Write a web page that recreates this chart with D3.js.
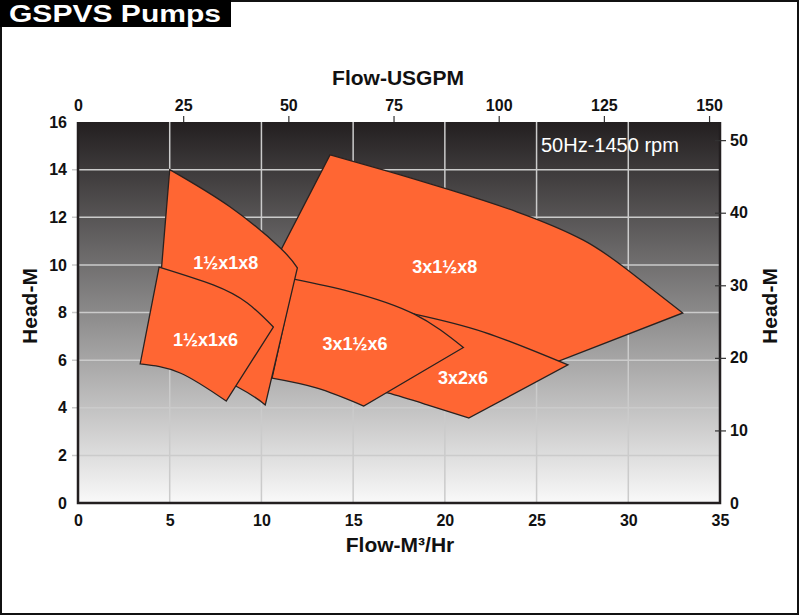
<!DOCTYPE html>
<html>
<head>
<meta charset="utf-8">
<script src="https://cdn.jsdelivr.net/npm/d3@7"></script>
<style>
  html, body { margin: 0; padding: 0; background: #fff; }
  svg { display: block; }
  text { font-family: "Liberation Sans", Arial, sans-serif; }
</style>
</head>
<body>
<svg id="chart" width="800" height="616"></svg>
<script>
// ---------- data ----------
const flowTicks = [0, 5, 10, 15, 20, 25, 30, 35];           // m3/h (bottom)
const headTicks = [0, 2, 4, 6, 8, 10, 12, 14, 16];           // m (left)
const gpmTicks = [0, 25, 50, 75, 100, 125, 150];             // USGPM (top)
const feetTicks = [0, 10, 20, 30, 40, 50];                   // ft (right)
const flowMax = 35, headMax = 16, gpmMax = 152.6, feetMax = 52.5;

const pumpNames = ["3x1½x8", "3x2x6", "3x1½x6", "1½x1x8", "1½x1x6"];
// each pump region: max-impeller curve (top) and min-impeller curve (bottom), [flow m3/h, head m]
const top3x15x8 = [[13.74, 14.62], [17.01, 13.91], [20.28, 13.15], [23.92, 12.23], [27.55, 11.04], [30.09, 9.71], [32.97, 7.98]];
const bottom3x15x8 = [[9.94, 8.95], [17.59, 7.48], [25.23, 5.67]];
const top3x2x6 = [[14.86, 8.53], [18.31, 7.94], [22.12, 7.18], [26.71, 5.80]];
const bottom3x2x6 = [[14.86, 4.96], [16.88, 4.62], [19.04, 4.12], [21.30, 3.57]];
const top3x15x6 = [[11.76, 9.40], [14.86, 8.87], [18.31, 7.94], [21.01, 6.53]];
const bottom3x15x6 = [[10.58, 5.24], [13.04, 4.82], [15.58, 4.07]];
const top1x8 = [[5.00, 14.00], [8.30, 12.43], [11.03, 10.71], [11.96, 9.87]];
const bottom1x8 = [[4.20, 6.60], [8.70, 4.87], [10.21, 4.12]];
const top1x6 = [[4.42, 9.91], [7.37, 9.16], [9.23, 8.40], [10.65, 7.39]];
const bottom1x6 = [[3.39, 5.84], [5.57, 5.46], [8.08, 4.28]];
const pumpTops = [top3x15x8, top3x2x6, top3x15x6, top1x8, top1x6];
const pumpBottoms = [bottom3x15x8, bottom3x2x6, bottom3x15x6, bottom1x8, bottom1x6];
const labelFlow = [20.0, 20.99, 15.1, 8.06, 6.95];
const labelHead = [9.91, 5.25, 6.70, 10.10, 6.85];

// ---------- layout ----------
const svg = d3.select("#chart");
const L = 78, R = 720, T = 122, B = 503;
const x = d3.scaleLinear().domain([0, flowMax]).range([L, R]);
const y = d3.scaleLinear().domain([0, headMax]).range([B, T]);
const xTop = d3.scaleLinear().domain([0, gpmMax]).range([L, R]);
const yRight = d3.scaleLinear().domain([0, feetMax]).range([B, T]);

// outer frame
svg.append("rect").attr("x", 1).attr("y", 1).attr("width", 797).attr("height", 613)
  .attr("fill", "#fff").attr("stroke", "#111").attr("stroke-width", 2);

// title box
svg.append("rect").attr("x", 0).attr("y", 0).attr("width", 231).attr("height", 27).attr("fill", "#000");
svg.append("text").attr("x", 9).attr("y", 22)
  .attr("font-family", "'DejaVu Sans', sans-serif").attr("font-weight", "bold")
  .attr("font-size", 23).attr("fill", "#fff")
  .attr("textLength", 212).attr("lengthAdjust", "spacingAndGlyphs")
  .text("GSPVS Pumps");

// background gradient
const defs = svg.append("defs");
const grad = defs.append("linearGradient").attr("id", "bg").attr("x1", 0).attr("y1", 0).attr("x2", 0).attr("y2", 1);
grad.append("stop").attr("offset", "0%").attr("stop-color", "#231f20");
grad.append("stop").attr("offset", "50%").attr("stop-color", "#8b8a8a");
grad.append("stop").attr("offset", "100%").attr("stop-color", "#f9f9f9");
svg.append("rect").attr("x", L).attr("y", T).attr("width", R - L).attr("height", B - T).attr("fill", "url(#bg)");

// grid
const grid = svg.append("g");
grid.selectAll(".vg").data(flowTicks.filter(d => d > 0 && d < flowMax)).join("line")
  .attr("x1", d => x(d)).attr("x2", d => x(d)).attr("y1", T).attr("y2", B)
  .attr("stroke", "#cbcbcb").attr("stroke-width", 1.5);
grid.selectAll(".hg").data(headTicks.filter(d => d > 0 && d < headMax)).join("line")
  .attr("x1", L - 6).attr("x2", R).attr("y1", d => y(d)).attr("y2", d => y(d))
  .attr("stroke", "#cbcbcb").attr("stroke-width", 1.5);

// pump regions
const line = d3.line().x(d => x(d[0])).y(d => y(d[1])).curve(d3.curveNatural);
function regionPath(top, bottom) {
  const a = line(top);
  const b = line(bottom.slice().reverse());
  return a + "L" + b.slice(1) + "Z";
}
const regions = svg.append("g");
pumpNames.forEach((name, i) => {
  regions.append("path").attr("d", regionPath(pumpTops[i], pumpBottoms[i]))
    .attr("fill", "#ff6633").attr("stroke", "#2a2220").attr("stroke-width", 1.3)
    .attr("stroke-linejoin", "miter");
});
pumpNames.forEach((name, i) => {
  svg.append("text").attr("x", x(labelFlow[i])).attr("y", y(labelHead[i])).attr("dy", "0.36em")
    .attr("text-anchor", "middle").attr("font-weight", "bold").attr("font-size", 18)
    .attr("fill", "#fff").text(name);
});

// plot border
svg.append("path").attr("d", `M${L},${T}V${B}H${R}V${T}`)
  .attr("fill", "none").attr("stroke", "#231f20").attr("stroke-width", 2.5);

// axes
const axB = svg.append("g").attr("transform", `translate(0,${B})`)
  .call(d3.axisBottom(x).tickValues(flowTicks).tickSize(0).tickPadding(12));
const axL = svg.append("g").attr("transform", `translate(${L},0)`)
  .call(d3.axisLeft(y).tickValues(headTicks).tickSize(0).tickPadding(11));
const axT = svg.append("g").attr("transform", `translate(0,${T})`)
  .call(d3.axisTop(xTop).tickValues(gpmTicks).tickSize(6).tickPadding(5));
const axR = svg.append("g").attr("transform", `translate(${R},0)`)
  .call(d3.axisRight(yRight).tickValues(feetTicks).tickSize(6).tickPadding(4));
axR.selectAll(".tick line").attr("x1", -5).attr("x2", 6);
[axB, axL, axT, axR].forEach(g => {
  g.select(".domain").remove();
  g.selectAll(".tick text").attr("font-family", "'Liberation Sans', Arial, sans-serif")
    .attr("font-weight", "bold").attr("font-size", 16).attr("fill", "#111");
  g.selectAll(".tick line").attr("stroke", "#333").attr("stroke-width", 1.2);
});
axT.selectAll(".tick line").filter(d => d === 0).remove();
axR.selectAll(".tick line").filter(d => d === 0).remove();

// axis titles
svg.append("text").attr("x", 398).attr("y", 85).attr("text-anchor", "middle")
  .attr("font-weight", "bold").attr("font-size", 21).attr("fill", "#111").text("Flow-USGPM");
svg.append("text").attr("x", 400).attr("y", 552).attr("text-anchor", "middle")
  .attr("font-weight", "bold").attr("font-size", 21).attr("fill", "#111").text("Flow-M³/Hr");
svg.append("text").attr("transform", "translate(37,306) rotate(-90)").attr("text-anchor", "middle")
  .attr("font-weight", "bold").attr("font-size", 21).attr("fill", "#111").text("Head-M");
svg.append("text").attr("transform", "translate(777,306) rotate(-90)").attr("text-anchor", "middle")
  .attr("font-weight", "bold").attr("font-size", 21).attr("fill", "#111").text("Head-M");

// speed note
svg.append("text").attr("x", 541).attr("y", 152)
  .attr("font-family", "'Open Sans', sans-serif").attr("font-size", 20).attr("fill", "#fff")
  .text("50Hz-1450 rpm");
</script>
</body>
</html>
